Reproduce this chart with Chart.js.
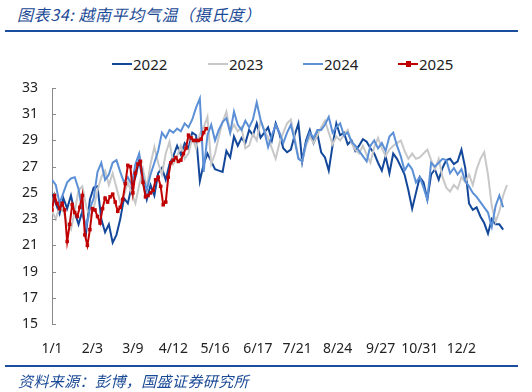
<!DOCTYPE html>
<html>
<head>
<meta charset="utf-8">
<script src="https://cdn.jsdelivr.net/npm/chart.js@4/dist/chart.umd.min.js"></script>
<style>
  html, body { margin: 0; padding: 0; background: #fff; }
  #wrap { position: relative; width: 532px; height: 392px; overflow: hidden; }
  #chart { position: absolute; left: 0; top: 0; }
  .title { position: absolute; left: 17px; top: 2px; font: italic 16px "Noto Sans CJK SC", sans-serif; letter-spacing: 0.6px; color: #1B4A96; white-space: nowrap; }
  .source { position: absolute; left: 18px; top: 370px; font: italic 15px "Noto Sans CJK SC", sans-serif; letter-spacing: 0.4px; color: #1B4A96; white-space: nowrap; }
  .rule { position: absolute; left: 5px; width: 513px; height: 2px; background: #1C4E9E; }
  .legend-item { position: absolute; top: 54px; height: 20px; font: 15px "Noto Sans", sans-serif; color: #222; }
  .legend-item .swatch { position: absolute; left: 0; top: 9px; width: 20px; height: 2px; }
  .legend-item .mark { position: absolute; left: 8px; top: 7px; width: 5px; height: 6px; }
  .legend-item span.txt { position: absolute; left: 21px; top: 0; line-height: 20px; }
</style>
</head>
<body>
<div id="wrap">
  <div class="title">图表34:  越南平均气温（摄氏度）</div>
  <div class="rule" style="top:30px"></div>
  <div id="legend"></div>
  <canvas id="chart" width="532" height="392"></canvas>
  <div class="rule" style="top:365px"></div>
  <div class="source">资料来源：彭博，国盛证券研究所</div>
</div>
<script>
// Vietnam average temperature, one value every 3 days (2025: every 2 days)
const years = ['2022', '2023', '2024', '2025'];
const colors = ['#13479A', '#C8C8C8', '#5B8FD6', '#C00000'];

const t2022 = [25.0, 24.2, 23.4, 24.6, 23.8, 24.8, 23.5, 22.6, 23.6, 22.0,
  24.5, 25.4, 25.5, 23.0, 22.0, 22.6, 21.2, 21.8, 23.0, 24.6,
  24.2, 25.5, 26.2, 27.5, 25.8, 24.5, 25.6, 24.8, 26.5, 26.9,
  26.0, 27.2, 27.8, 28.6, 27.9, 28.8, 28.4, 29.6, 29.4, 25.9,
  27.2, 28.0, 27.4, 26.8, 26.7, 26.6, 28.2, 27.7, 29.3, 28.6,
  29.2, 28.8, 29.8, 29.4, 30.3, 29.2, 29.6, 30.0, 29.0, 30.3,
  29.5, 28.4, 28.1, 28.3, 29.4, 30.3, 27.4, 29.0, 29.8, 28.8,
  29.5, 28.1, 27.7, 26.7, 28.6, 30.3, 29.4, 29.6, 28.7, 29.0,
  28.2, 28.6, 29.1, 28.9, 28.4, 28.0, 27.3, 26.7, 27.8, 26.5,
  28.0, 27.6, 27.0, 26.4, 25.2, 23.8, 25.0, 26.2, 25.8, 24.5,
  26.4, 26.8, 26.0, 26.9, 27.5, 27.6, 27.2, 27.4, 28.3, 26.9,
  24.2, 23.7, 23.9, 23.2, 22.7, 21.9, 23.0, 22.6, 22.6, 22.2];

const t2023 = [23.6, 23.0, 24.0, 23.6, 22.6, 22.2, 23.6, 25.2, 25.5, 24.0,
  23.2, 23.8, 25.2, 26.2, 26.7, 25.6, 26.5, 25.4, 24.3, 24.8,
  25.8, 25.0, 24.2, 25.6, 26.8, 25.4, 27.2, 28.5, 27.3, 26.4,
  28.0, 28.9, 27.2, 27.8, 28.6, 27.6, 28.0, 29.2, 28.4, 29.5,
  30.0, 30.8, 27.2, 28.0, 29.3, 30.4, 31.2, 29.6, 30.2, 29.7,
  30.0, 28.4, 28.6, 29.5, 29.0, 30.5, 29.8, 29.2, 28.4, 27.6,
  28.8, 29.6, 30.3, 30.6, 29.2, 27.7, 27.4, 28.6, 29.3, 28.8,
  29.4, 30.0, 30.5, 29.6, 28.7, 29.3, 29.0, 29.4, 29.8, 28.8,
  28.3, 28.0, 28.6, 27.9, 27.3, 28.5, 29.2, 28.4, 27.8, 28.3,
  28.6, 28.8, 29.0, 28.2, 27.6, 28.0, 27.6, 27.7, 28.0, 28.3,
  27.5, 26.8, 27.6, 26.2, 25.4, 25.1, 25.6, 25.3, 26.2, 25.8,
  26.4, 25.6, 26.8, 27.6, 28.1, 26.4, 24.0, 22.8, 23.6, 24.8,
  25.6];

const t2024 = [26.0, 25.6, 24.2, 25.0, 25.8, 26.1, 26.2, 25.3, 23.6, 22.4,
  23.8, 24.6, 26.6, 27.3, 26.0, 26.4, 27.3, 27.5, 26.6, 25.8,
  26.2, 25.6, 27.2, 28.0, 26.2, 25.2, 26.4, 27.3, 28.2, 29.6,
  29.2, 29.8, 29.6, 29.9, 29.7, 30.3, 30.0, 30.6, 31.5, 32.2,
  26.6, 29.4, 30.2, 29.0, 29.8, 30.4, 30.7, 29.6, 31.2, 30.2,
  29.8, 30.5, 30.0, 30.6, 31.9, 30.6, 29.7, 28.5, 29.4, 30.2,
  29.6, 28.8, 29.6, 30.2, 29.0, 27.6, 27.4, 28.8, 29.6, 29.2,
  29.8, 29.8, 30.2, 30.8, 29.6, 30.0, 30.3, 29.4, 29.6, 28.9,
  28.6, 28.2, 27.8, 27.4, 28.6, 29.0, 28.4, 28.8, 28.2, 29.3,
  29.6, 28.6, 27.8, 26.7, 27.2, 26.8, 25.8, 26.2, 25.4, 24.5,
  27.3, 27.0, 27.3, 27.6, 27.5, 26.5, 26.9, 26.4, 26.8, 25.9,
  25.5, 25.0, 24.7, 24.3, 23.9, 23.5, 22.4, 24.0, 24.8, 23.9];

const t2025 = [23.7, 24.8, 24.2, 23.8, 24.2, 23.7, 21.3, 22.6, 24.1, 23.5,
  23.2, 23.9, 24.8, 21.8, 21.0, 22.2, 23.8, 23.7, 23.2, 22.7,
  23.8, 24.6, 24.3, 24.7, 24.9, 24.3, 23.6, 23.9, 24.5, 25.7,
  27.1, 27.0, 25.0, 26.5, 27.2, 27.4, 25.8, 24.7, 24.8, 25.0,
  25.2, 26.0, 26.2, 25.5, 24.1, 24.3, 26.2, 27.3, 27.5, 27.7,
  27.4, 27.5, 28.0, 28.4, 29.4, 29.2, 29.0, 29.0, 29.0, 29.1,
  29.6, 29.9];

const series = [t2022, t2023, t2024, t2025];
const steps = [3, 3, 3, 2];

const tickPos = [0, 32, 64, 96, 129, 163, 194, 226, 260, 291, 324];
const tickLabels = ['1/1', '2/3', '3/9', '4/12', '5/16', '6/17', '7/21', '8/24', '9/27', '10/31', '12/2'];
const yTicks = [15, 17, 19, 21, 23, 25, 27, 29, 31, 33];

// Build the legend in html so it can sit where the original has it
const legendLeft = [112, 208, 303, 398];
const legend = document.getElementById('legend');
years.forEach((y, i) => {
    const item = document.createElement('div');
    item.className = 'legend-item';
    item.style.left = legendLeft[i] + 'px';
    item.innerHTML = `<div class="swatch" style="background:${colors[i]}"></div>` +
        (i === 3 ? `<div class="mark" style="background:${colors[i]}"></div>` : '') +
        `<span class="txt">${y}</span>`;
    legend.appendChild(item);
});

// little inward tick marks on the y axis
const innerTicks = {
    id: 'innerTicks',
    afterDraw(chart) {
        const ctx = chart.ctx;
        const yScale = chart.scales.y;
        const x0 = chart.chartArea.left;
        ctx.save();
        ctx.strokeStyle = '#898989';
        ctx.lineWidth = 1;
        yTicks.forEach(v => {
            const y = Math.round(yScale.getPixelForValue(v)) + 0.5;
            ctx.beginPath();
            ctx.moveTo(x0, y);
            ctx.lineTo(x0 + 4, y);
            ctx.stroke();
        });
        ctx.restore();
    }
};

const datasets = series.map((arr, i) => ({
    label: years[i],
    data: arr.map((v, k) => ({ x: k * steps[i], y: v })),
    borderColor: colors[i],
    backgroundColor: colors[i],
    borderWidth: 2,
    pointRadius: i === 3 ? 2.5 : 0,
    pointStyle: 'rect',
    pointBorderWidth: 0,
    tension: 0,
    order: [3, 2, 1, 0][i]
}));

new Chart(document.getElementById('chart'), {
    type: 'line',
    data: { datasets: datasets },
    options: {
        responsive: false,
        animation: false,
        events: [],
        layout: { padding: { left: 0, top: 88, right: 20, bottom: 0 } },
        plugins: { legend: { display: false }, tooltip: { enabled: false } },
        scales: {
            x: {
                type: 'linear',
                min: 0,
                max: 364,
                afterBuildTicks: (scale) => { scale.ticks = tickPos.map(v => ({ value: v })); },
                afterFit: (scale) => { scale.height = 68; },
                ticks: {
                    autoSkip: false,
                    maxRotation: 0,
                    padding: 9,
                    color: '#222',
                    font: { family: 'Noto Sans', size: 14 },
                    callback: (v) => tickLabels[tickPos.indexOf(v)]
                },
                grid: { display: false },
                border: { display: false }
            },
            y: {
                min: 15,
                max: 33,
                afterBuildTicks: (scale) => { scale.ticks = yTicks.map(v => ({ value: v })); },
                afterFit: (scale) => { scale.width = 52; },
                ticks: {
                    padding: 14,
                    color: '#222',
                    font: { family: 'Noto Sans', size: 14 }
                },
                grid: { drawOnChartArea: false, drawTicks: false },
                border: { display: true, color: '#898989', width: 1 }
            }
        }
    },
    plugins: [innerTicks]
});
</script>
</body>
</html>
